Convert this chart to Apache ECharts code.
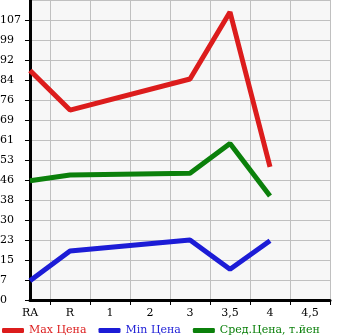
<!DOCTYPE html>
<html>
<head>
<meta charset="utf-8">
<script src="https://cdn.jsdelivr.net/npm/echarts@6/dist/echarts.min.js"></script>
<style>
  html, body { margin: 0; padding: 0; background: #fff; }
  #chart { width: 345px; height: 335px; }
</style>
</head>
<body>
<div id="chart"></div>
<script>
// x positions: 0=RA, 1=R, 2=1, 3=2, 4=3, 5=3,5, 6=4, 7=4,5
const xLabels = ['RA', 'R', '1', '2', '3', '3,5', '4', '4,5']
const pointX = [0, 1, 4, 5, 6]
const maxPrice = [88, 72.8, 84.7, 110.4, 51]
const minPrice = [7.4, 18.8, 23, 11.8, 22.7]
const avgPrice = [45.7, 47.9, 48.6, 60, 39.9]
const seriesNames = ['Max Цена', 'Min Цена', 'Сред.Цена, т.йен']
const seriesColors = ['#dc1c1c', '#1c1cd6', '#0b800b']

const Y_MAX = 115
const Y_STEP = Y_MAX / 15
const FONT = 'DejaVu Serif'

const pairs = vals => pointX.map((x, i) => [x, vals[i]])

const chart = echarts.init(document.getElementById('chart'))

chart.setOption({
  animation: false,
  textStyle: { fontFamily: FONT },
  grid: {
    left: 30, right: 15, top: 0, height: 300,
    outerBoundsMode: 'none', containLabel: false,
    show: true, backgroundColor: '#f7f7f7', borderWidth: 0,
  },
  xAxis: {
    type: 'value',
    min: 0, max: 7.5, interval: 0.5,
    axisLine: { lineStyle: { color: '#000', width: 3 } },
    axisTick: {
      show: true, length: 5, lineStyle: { color: '#000', width: 1 },
      customValues: [0.5, 1.5, 2.5, 3.5, 4.5, 5.5, 6.5, 7.5],
    },
    axisLabel: {
      customValues: [0, 1, 2, 3, 4, 5, 6, 7],
      formatter: v => xLabels[Math.round(v)] || '',
      color: '#000', fontSize: 11, fontFamily: FONT, margin: 8,
    },
    splitLine: { show: true, lineStyle: { color: '#c0c0c0', width: 1 } },
  },
  yAxis: {
    type: 'value',
    min: 0, max: Y_MAX, interval: Y_STEP,
    axisLine: { show: true, lineStyle: { color: '#000', width: 3 } },
    axisTick: { show: true, length: 5, lineStyle: { color: '#000', width: 1 } },
    axisLabel: {
      showMaxLabel: false, showMinLabel: true, hideOverlap: false,
      formatter: v => String(Math.floor(v + 1e-6)),
      color: '#000', fontSize: 11, fontFamily: FONT, margin: 30, align: 'left',
      verticalAlign: 'middle', padding: [0, 0, 6, 0],
    },
    splitLine: { show: true, lineStyle: { color: '#c0c0c0', width: 1 } },
  },
  legend: {
    left: -3, top: 320,
    icon: 'roundRect',
    itemWidth: 22, itemHeight: 5, itemGap: 12,
    data: seriesNames.map((n, i) => ({
      name: n,
      textStyle: { color: seriesColors[i], fontSize: 11, fontFamily: FONT },
    })),
  },
  series: [maxPrice, minPrice, avgPrice].map((vals, i) => ({
    name: seriesNames[i],
    type: 'line',
    data: pairs(vals),
    showSymbol: false,
    symbol: 'none',
    color: seriesColors[i],
    lineStyle: { width: 5, color: seriesColors[i] },
  })),
})
</script>
</body>
</html>
